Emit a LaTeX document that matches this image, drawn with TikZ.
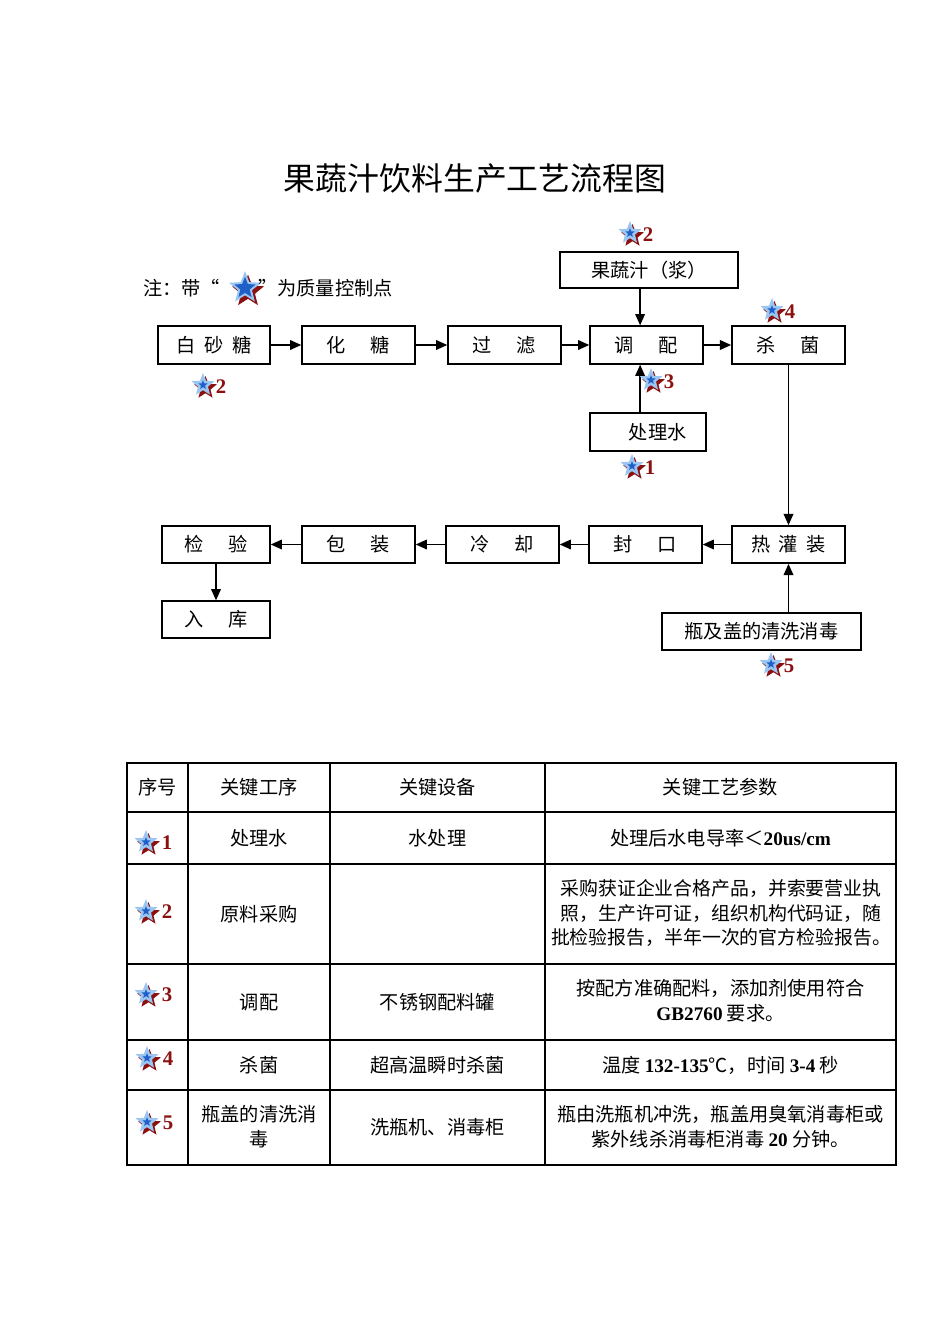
\documentclass[tikz,border=0pt]{standalone}
\usepackage{fontspec}
\setmainfont{Liberation Serif}
\newfontfamily\cjk{Noto Sans CJK SC}
\usepackage{tikz}
\usetikzlibrary{
	shapes.geometric,
	arrows.meta,
	positioning,
	calc
}
\definecolor{starred}{HTML}{8B1010}
\definecolor{starlight}{HTML}{9CC6F2}
\definecolor{starblue}{HTML}{1E5FC8}
\newcommand{\bnum}[1]{{\rmfamily\bfseries #1}}

\begin{document}
\begin{tikzpicture}[
	x=0.625pt, y=-0.625pt,
	procbox/.style={
		rectangle, draw, line width=0.9pt,
		minimum width=70.6pt, minimum height=23.75pt,
		inner sep=0pt, align=center,
		font=\cjk\fontsize{12}{15}\selectfont
	},
	txt/.style={
		inner sep=0pt, align=center,
		font=\cjk\fontsize{12}{15.5}\selectfont
	},
	arrow/.style={-{Triangle[length=7pt,width=6pt]}, line width=1pt},
	qstar/.style={
		star, star points=5, star point ratio=2.3,
		inner sep=0pt, draw=none
	},
	pics/qcp/.style={
		code={
			\node[qstar, fill=starred, minimum size=15pt] at (2.5,3) {};
			\node[qstar, fill=starlight, minimum size=15pt] at (0,0) {};
			\node[qstar, fill=starblue, minimum size=6pt] at (0,0) {};
			\node[inner sep=0pt, text=starred, font=\rmfamily\bfseries\fontsize{13}{13}\selectfont] at (18,2) {#1};
		}
	},
	pics/qcptab/.style={
		code={
			\node[qstar, fill=starred, minimum size=15pt] at (2.5,3) {};
			\node[qstar, fill=starlight, minimum size=15pt] at (0,0) {};
			\node[qstar, fill=starblue, minimum size=6pt] at (0,0) {};
			\node[inner sep=0pt, text=starred, font=\rmfamily\bfseries\fontsize{13}{13}\selectfont] at (21,1) {#1};
		}
	},
	pics/qbig/.style={
		code={
			\node[qstar, fill=starred, minimum size=21pt] at (3,3.5) {};
			\node[qstar, fill=starlight, minimum size=21pt] at (0,0) {};
			\node[qstar, fill=starblue, minimum size=14pt] at (0,0) {};
		}
	},
	]
	\useasboundingbox (0,0) rectangle (950,1344);
	
	% title
	\node[txt, font=\cjk\fontsize{19.9}{23}\selectfont] (title) at (475,178) {果蔬汁饮料生产工艺流程图};
	
	% note
	\node[txt, anchor=west] (notea) at (143,288) {注：带“};
	\pic at (245,288) {qbig};
	\node[txt, anchor=west] (noteb) at (258,288) {”为质量控制点};
	
	%first row
	\node[procbox, minimum width=70pt] (sugar) at (214,345) {白\hspace{0.45em}砂\hspace{0.45em}糖};
	\node[procbox] (melt) at (358.5,345) {化\hspace{1.3em}糖};
	\node[procbox] (filter) at (504.5,345) {过\hspace{1.3em}滤};
	\node[procbox] (mix) at (646.5,345) {调\hspace{1.3em}配};
	\node[procbox, line width=1.1pt] (steril) at (788.5,345) {杀\hspace{1.3em}菌};
	\draw[arrow] (sugar) -- (melt);
	\draw[arrow] (melt) -- (filter);
	\draw[arrow] (filter) -- (mix);
	\draw[arrow] (mix) -- (steril);
	
	% inputs to mixing
	\node[procbox, minimum width=111.25pt, minimum height=22.5pt] (juice) at (649,270) {果蔬汁（浆）};
	\node[procbox, minimum width=72.5pt] (water) at (648,432) {\hspace{1em}处理水};
	\draw[arrow] ([xshift=-4pt]mix.north |- juice.south) -- ([xshift=-4pt]mix.north);
	\draw[arrow] ([xshift=-4pt]mix.south |- water.north) -- ([xshift=-4pt]mix.south);
	
	%second row
	\node[procbox, minimum width=67.5pt, minimum height=23.1pt] (check) at (216,544.5) {检\hspace{1.3em}验};
	\node[procbox, minimum height=23.1pt] (pack) at (358.5,544.5) {包\hspace{1.3em}装};
	\node[procbox, minimum height=23.1pt] (cool) at (502.5,544.5) {冷\hspace{1.3em}却};
	\node[procbox, minimum height=23.1pt] (seal) at (645.5,544.5) {封\hspace{1.3em}口};
	\node[procbox, minimum height=23.1pt, line width=1.1pt] (fill) at (788.5,544.5) {热\hspace{0.45em}灌\hspace{0.45em}装};
	\node[procbox, minimum width=67.5pt, minimum height=23.1pt] (store) at (216,619.5) {入\hspace{1.3em}库};
	\node[procbox, minimum width=124.4pt, minimum height=23.1pt, line width=1.1pt] (wash) at (761.5,631.5) {瓶及盖的清洗消毒};
	\draw[arrow] (steril.south) -- (fill.north);
	\draw[arrow] (fill) -- (seal);
	\draw[arrow] (seal) -- (cool);
	\draw[arrow] (cool) -- (pack);
	\draw[arrow] (pack) -- (check);
	\draw[arrow] (check.south) -- (store.north);
	\draw[arrow] (wash.north -| fill) -- (fill.south);
	
	% control points
	\pic at (630,233) {qcp=2};
	\pic at (772,310) {qcp=4};
	\pic at (203,385) {qcp=2};
	\pic at (651,380) {qcp=3};
	\pic at (632,466) {qcp=1};
	\pic at (771,664) {qcp=5};
	
	% table
	\draw[line width=0.8pt] (127,763) rectangle (896,1165);
	\foreach \ty in {812,864,964,1040,1090}
		\draw[line width=0.8pt] (127,\ty) -- (896,\ty);
	\foreach \tx in {188,330,545}
		\draw[line width=0.8pt] (\tx,763) -- (\tx,1165);
	
	\node[txt] (hno) at (157.5,787.5) {序号};
	\node[txt] (hstep) at (259,787.5) {关键工序};
	\node[txt] (hequip) at (437.5,787.5) {关键设备};
	\node[txt] (hparam) at (720.5,787.5) {关键工艺参数};
	
	\pic at (146,842) {qcptab=1};
	\node[txt] (stepa) at (259,838) {处理水};
	\node[txt] (equipa) at (437.5,838) {水处理};
	\node[txt] (parama) at (720.5,838) {处理后水电导率＜\bnum{20us/cm}};
	
	\pic at (146,911) {qcptab=2};
	\node[txt] (stepb) at (259,914) {原料采购};
	\node[txt, font=\cjk\fontsize{11.8}{15.5}\selectfont] (paramb) at (721,913) {采购获证企业合格产品，并索要营业执\\照，生产许可证，组织机构代码证，随\\批检验报告，半年一次的官方检验报告。};
	
	\pic at (146,994) {qcptab=3};
	\node[txt] (stepc) at (259,1002) {调配};
	\node[txt] (equipc) at (437.5,1002) {不锈钢配料罐};
	\node[txt] (paramc) at (720.5,1001) {按配方准确配料，添加剂使用符合\\\bnum{GB2760} 要求。};
	
	\pic at (147,1058) {qcptab=4};
	\node[txt] (stepd) at (259,1065) {杀菌};
	\node[txt] (equipd) at (437.5,1065) {超高温瞬时杀菌};
	\node[txt] (paramd) at (720.5,1065) {温度 \bnum{132-135}℃，时间 \bnum{3-4} 秒};
	
	\pic at (147,1122) {qcptab=5};
	\node[txt] (stepe) at (259,1127) {瓶盖的清洗消\\毒};
	\node[txt] (equipe) at (437.5,1127.5) {洗瓶机、消毒柜};
	\node[txt] (parame) at (720.5,1127) {瓶由洗瓶机冲洗，瓶盖用臭氧消毒柜或\\紫外线杀消毒柜消毒 \bnum{20} 分钟。};
\end{tikzpicture}
\end{document}
